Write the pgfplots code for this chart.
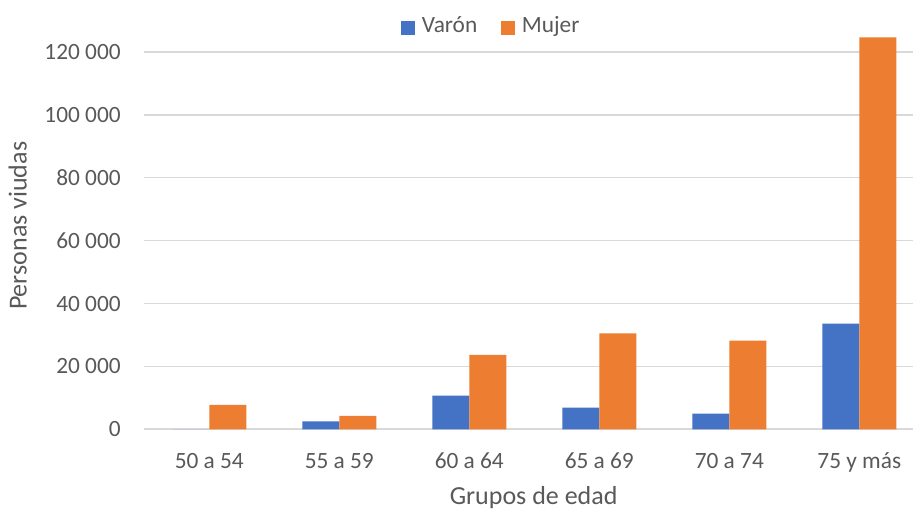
\documentclass[border=0pt]{standalone}
\usepackage{fontspec}
\setmainfont{Carlito}
\usepackage{pgfplots}
\pgfplotsset{compat=1.18}
\definecolor{cblue}{HTML}{4472C4}
\definecolor{corange}{HTML}{ED7D31}
\definecolor{cgrid}{HTML}{D9D9D9}
\definecolor{ctext}{HTML}{595959}
\begin{document}
\begin{tikzpicture}
\begin{axis}[
  scale only axis, width=576.5pt, height=294.75pt,
  ybar=0pt, bar width=0.2846,
  xmin=-0.5, xmax=5.413, ymin=0, ymax=125000,
  xtick={0,1,2,3,4,5},
  xticklabels={50 a 54,55 a 59,60 a 64,65 a 69,70 a 74,75 y más},
  ytick={0,20000,40000,60000,80000,100000,120000},
  yticklabels={0,20 000,40 000,60 000,80 000,100 000,120 000},
  scaled y ticks=false,
  ymajorgrids, grid style={cgrid, line width=1pt},
  major tick length=0pt,
  axis x line*=bottom, axis y line*=left,
  x axis line style={cgrid, line width=1.2pt, -},
  y axis line style={draw=none},
  tick label style={font=\fontsize{17.5}{21}\selectfont, text=ctext},
  yticklabel style={anchor=east, inner sep=0pt, xshift=-17.5pt},
  xticklabel style={anchor=base, inner sep=0pt, yshift=-29.25pt},
  xlabel={Grupos de edad},
  ylabel={Personas viudas},
  xlabel style={at={(axis description cs:0.5065,-0.1926)}, anchor=base, font=\fontsize{19.5}{23}\selectfont, text=ctext},
  ylabel style={at={(axis description cs:-0.153,0.5176)}, anchor=base, font=\fontsize{19.5}{23}\selectfont, text=ctext},
  legend style={draw=none, fill=none, at={(0.4545,1.0176)}, anchor=center,
    font=\fontsize{17.5}{20}\selectfont, text=ctext,
    nodes={text height=0.7em, text depth=0.2em, inner xsep=5pt},
    /tikz/every even column/.append style={column sep=13pt}},
  legend columns=2,
  legend image code/.code={\fill[#1,draw=none] (0pt,-4.4pt) rectangle (10.5pt,6.1pt);},
]
\addplot[fill=cblue, draw=none] coordinates {(0,0) (1,2550) (2,10690) (3,6870) (4,4960) (5,33590)};
\addplot[fill=corange, draw=none] coordinates {(0,7730) (1,4230) (2,23630) (3,30530) (4,28180) (5,124680)};
\legend{Varón, Mujer}
\end{axis}
\pgfresetboundingbox
\useasboundingbox ([shift={(-108.2pt,-60.5pt)}]current axis.south west) rectangle ([yshift=27.2pt]current axis.north east);
\end{tikzpicture}
\end{document}
